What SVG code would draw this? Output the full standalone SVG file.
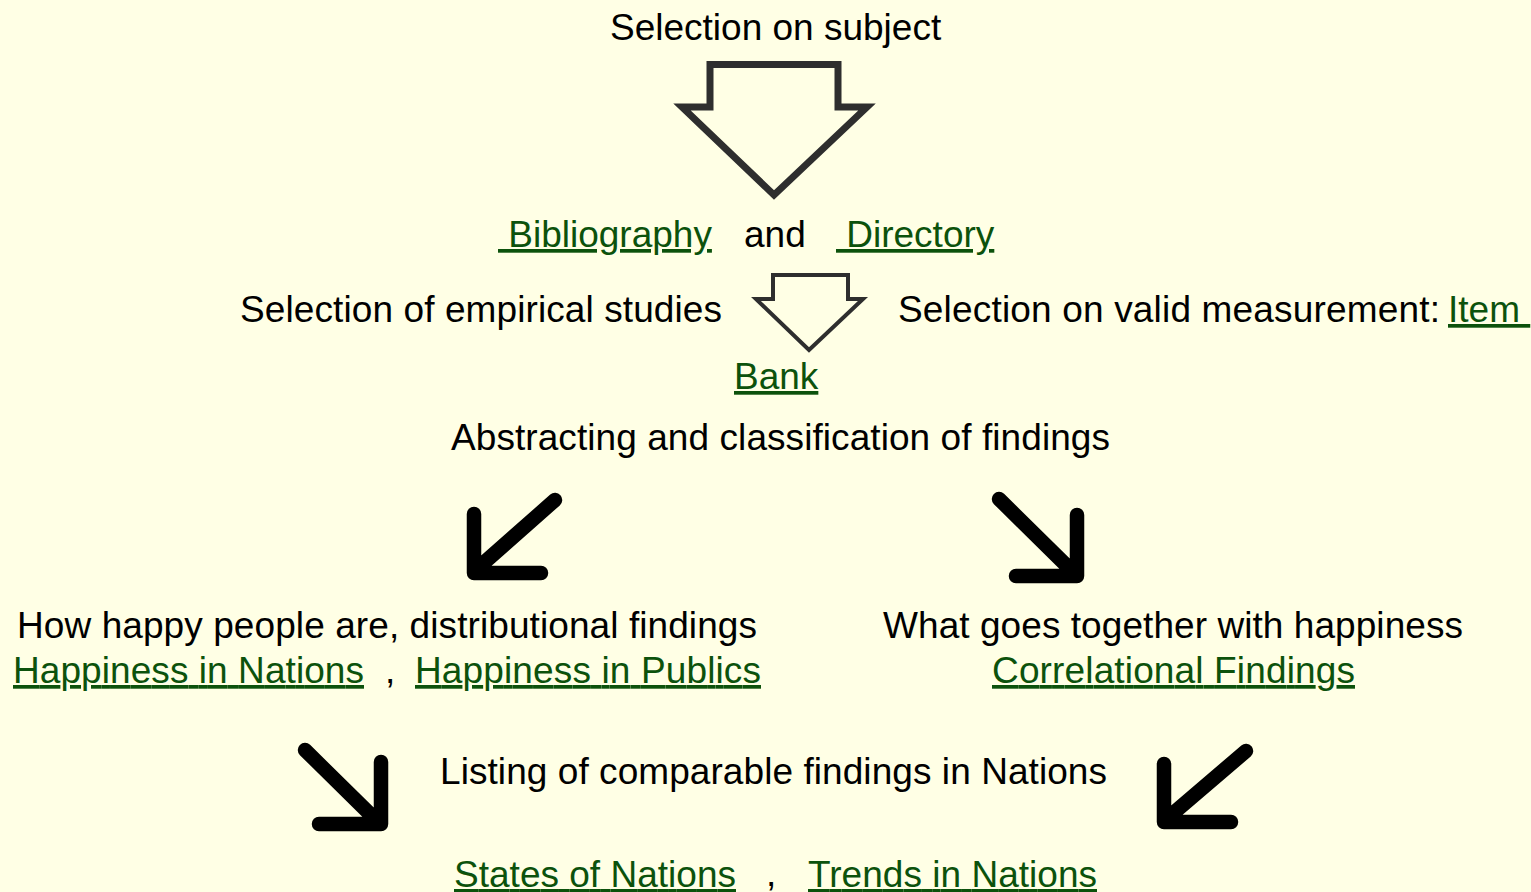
<svg xmlns="http://www.w3.org/2000/svg" width="1531" height="892" viewBox="0 0 1531 892">
<style>
text{font-family:"Liberation Sans",Arial,sans-serif;font-size:37px;fill:#000;white-space:pre}
.lk{fill:#0c520c;text-decoration:underline}
.hollow{fill:#ffffe5;stroke:#2e2e2e;stroke-linejoin:miter}
.bold{fill:none;stroke:#000;stroke-width:14.5;stroke-linecap:round;stroke-linejoin:round}
</style>
<rect width="1531" height="892" fill="#ffffe5"/>
<g id="connectors">
<polygon class="hollow" stroke-width="7" points="710,64.5 838,64.5 838,107 867,107 774,195 682,107 710,107"/>
<polygon class="hollow" stroke-width="4" points="773,275 848,275 848,299 863,299 809,350 756,299 773,299"/>
<g id="arrow-left-1"><path class="bold" d="M555 500 L478 568 M474 514 L474 573 L541 573"/></g>
<g id="arrow-right-1"><path class="bold" d="M999 499 L1070 569 M1077 515 L1077 576 L1016 576"/></g>
<g id="arrow-right-2"><path class="bold" d="M305 750 L374 818 M381 762 L381 824 L319 824"/></g>
<g id="arrow-left-2"><path class="bold" d="M1246 751 L1170 816 M1164 764 L1164 822 L1231 822"/></g>
</g>
<g id="n-subject"><text x="610" y="40">Selection on subject</text></g>
<g id="n-bib"><text x="498" y="247" class="lk"> Bibliography</text><text x="744" y="247">and</text><text x="836" y="247" class="lk"> Directory</text></g>
<g id="n-empirical"><text x="240" y="322" textLength="482">Selection of empirical studies</text></g>
<g id="n-valid"><text x="898" y="322" textLength="542">Selection on valid measurement:</text><text x="1448" y="322" class="lk">Item </text></g>
<g id="n-bank"><text x="734" y="389" class="lk">Bank</text></g>
<g id="n-abstract"><text x="451" y="450" textLength="659">Abstracting and classification of findings</text></g>
<g id="n-happy"><text x="17" y="638" textLength="740">How happy people are, distributional findings</text>
<text x="13" y="683" class="lk" textLength="351">Happiness in Nations</text><text x="385" y="683">,</text><text x="415" y="683" class="lk" textLength="346">Happiness in Publics</text></g>
<g id="n-together"><text x="883" y="638" textLength="580">What goes together with happiness</text>
<text x="992" y="683" class="lk" textLength="363">Correlational Findings</text></g>
<g id="n-listing"><text x="440" y="784" textLength="667">Listing of comparable findings in Nations</text></g>
<g id="n-states"><text x="454" y="887" class="lk" textLength="282">States of Nations</text><text x="766" y="886">,</text><text x="808" y="887" class="lk" textLength="289">Trends in Nations</text></g>
</svg>
